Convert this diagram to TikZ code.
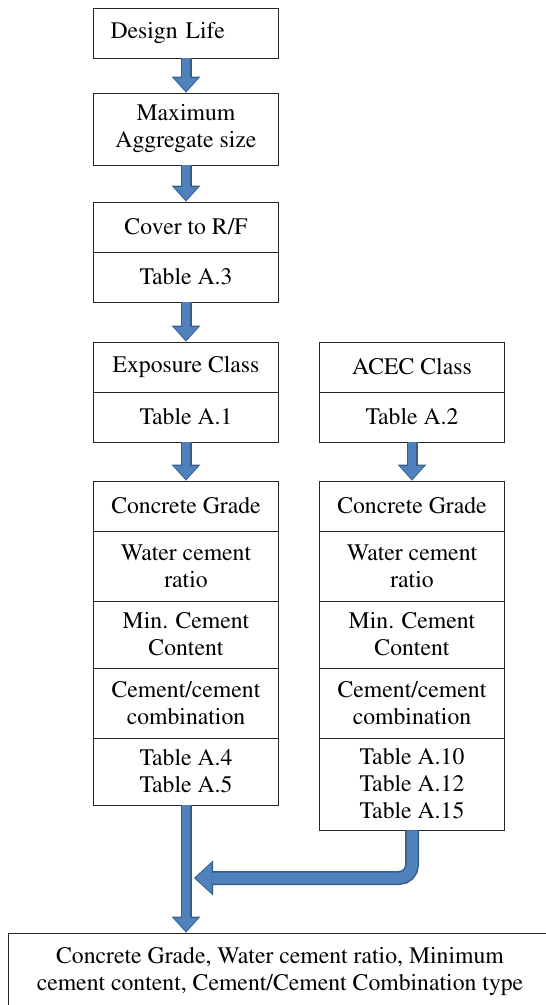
\documentclass[tikz,border=0pt]{standalone}
\usepackage[T1]{fontenc}
\renewcommand{\rmdefault}{ptm}
\usetikzlibrary{arrows.meta}
\definecolor{arrfill}{HTML}{4F81BD}
\definecolor{arrline}{HTML}{385D8A}

\begin{document}
\begin{tikzpicture}
        [x=1pt, y=-1pt,
        cell/.style={rectangle, draw=black!85, line width=0.9pt, minimum width=185pt,
           inner sep=2pt, align=center, font=\rmfamily\fontsize{23.7}{27}\selectfont},
        blockarr/.style={line width=8pt, draw=arrfill, shorten >=1.5pt,
           -{Triangle[length=13pt, width=24pt, line width=0pt, fill=arrfill]},
           preaction={draw=arrline, line width=11pt, shorten >=0pt,
              -{Triangle[length=16pt, width=29pt, line width=0pt, fill=arrline]}}},
        bentarr/.style={line width=11pt, draw=arrfill, shorten >=1.5pt, rounded corners=13pt,
           -{Triangle[length=16pt, width=30pt, line width=0pt, fill=arrfill]},
           preaction={draw=arrline, line width=14pt, shorten >=0pt,
              -{Triangle[length=19pt, width=35pt, line width=0pt, fill=arrline]}}}]
        \path[use as bounding box] (0,0) rectangle (546,1005);
        \clip (0,0) rectangle (546,1005);
        % left column
        \node (dl) at (186,33) [cell, minimum height=50pt, text width=151pt,
           inner xsep=17pt, align=left] {Design Life};
        \node (ma) at (186,129) [cell, minimum height=72pt] {Maximum\\Aggregate size};
        \node (cov) at (186,227) [cell, minimum height=50pt] {Cover to R/F};
        \node (ta3) at (186,277) [cell, minimum height=50pt] {Table A.3};
        \node (exp) at (186,367) [cell, minimum height=50pt] {Exposure Class};
        \node (ta1) at (186,417) [cell, minimum height=50pt] {Table A.1};
        \node (cg1) at (186,506) [cell, minimum height=50pt] {Concrete Grade};
        \node (wc1) at (186,566) [cell, minimum height=70pt] {Water cement\\ratio};
        \node (mc1) at (186,634.5) [cell, minimum height=67pt] {Min. Cement\\Content};
        \node (cc1) at (186,703) [cell, minimum height=70pt] {Cement/cement\\combination};
        \node (tt1) at (186,771.5) [cell, minimum height=67pt] {Table A.4\\Table A.5};
        % right column
        \node (acec) at (412,367) [cell, minimum height=50pt] {ACEC Class};
        \node (ta2) at (412,417) [cell, minimum height=50pt] {Table A.2};
        \node (cg2) at (412,506) [cell, minimum height=50pt] {Concrete Grade};
        \node (wc2) at (412,566) [cell, minimum height=70pt] {Water cement\\ratio};
        \node (mc2) at (412,634.5) [cell, minimum height=67pt] {Min. Cement\\Content};
        \node (cc2) at (412,703) [cell, minimum height=70pt] {Cement/cement\\combination};
        \node (tt2) at (412,784) [cell, minimum height=92pt] {Table A.10\\Table A.12\\Table A.15};
        % result
        \node (res) at (280,971.5) [cell, minimum width=544pt, minimum height=77pt]
           {Concrete Grade, Water cement ratio, Minimum\\cement content, Cement/Cement Combination type};
        \coordinate (join) at (194,878);
        \path (dl) edge[blockarr] (ma);
        \path (ma) edge[blockarr] (cov);
        \path (ta3) edge[blockarr] (exp);
        \path (ta1) edge[blockarr] (cg1);
        \path (ta2) edge[blockarr] (cg2);
        \path (tt1.south) edge[blockarr] (tt1.south |- res.north);
        \draw[bentarr] (tt2.south) |- (join);
     \end{tikzpicture}
\end{document}
